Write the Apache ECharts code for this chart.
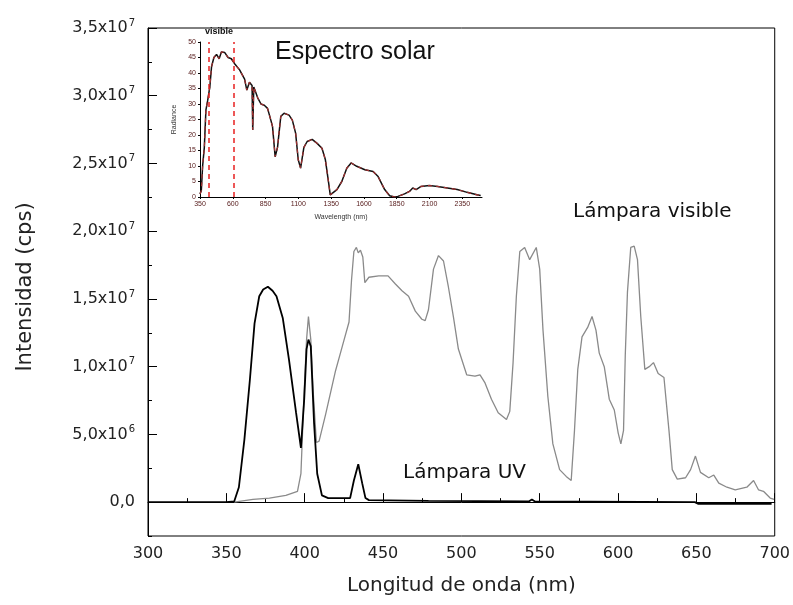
<!DOCTYPE html>
<html>
<head>
<meta charset="utf-8">
<script src="https://cdn.jsdelivr.net/npm/echarts@6/dist/echarts.min.js"></script>
<style>
	html, body { margin: 0; padding: 0; background: #fff; }
	#chart { width: 793px; height: 605px; }
</style>
</head>
<body>
<div id="chart"></div>
<script>
// Lámpara UV: [longitud de onda (nm), intensidad (cps)]
var uvLamp = [
	[300, 0], [350, 0], [355, 0.05e6], [358, 1.1e6], [361.5, 4.6e6], [365, 9.0e6],
	[368, 13.2e6], [371, 15.2e6], [373.5, 15.7e6], [376.5, 15.9e6], [379.5, 15.6e6],
	[382, 15.2e6], [386, 13.6e6], [390, 10.5e6], [394.5, 6.6e6], [397.6, 4.0e6],
	[399.7, 7.6e6], [401.2, 11.3e6], [402.4, 12.0e6], [403.9, 11.5e6], [406, 5.8e6],
	[408, 2.1e6], [411, 0.5e6], [415, 0.3e6], [429, 0.3e6], [431.4, 1.6e6],
	[434.2, 2.8e6], [436.7, 1.4e6], [438.8, 0.3e6], [441, 0.15e6], [479, 0.1e6],
	[543, 0.05e6], [545, 0.2e6], [547, 0.05e6], [649, 0], [651, -0.12e6], [698, -0.12e6]
];

// Lámpara visible
var visLamp = [
	[355, 0], [367, 0.2e6], [377.5, 0.3e6], [388, 0.5e6], [395.4, 0.8e6], [397.6, 2.1e6],
	[399.7, 8.2e6], [401.2, 12.0e6], [402.4, 13.7e6], [403.9, 12.0e6], [405.4, 8.2e6],
	[407.5, 4.4e6], [409.2, 4.5e6], [413.4, 6.5e6], [419.7, 9.7e6], [424, 11.5e6],
	[428.3, 13.3e6], [429.9, 16.4e6], [431.4, 18.5e6], [433, 18.8e6], [434.2, 18.4e6],
	[435.6, 18.6e6], [437.1, 18.1e6], [438.4, 16.2e6], [441, 16.6e6], [447.3, 16.7e6],
	[453.2, 16.7e6], [457.9, 16.1e6], [462.1, 15.6e6], [466.3, 15.2e6], [470.6, 14.1e6],
	[474.8, 13.5e6], [476.9, 13.4e6], [479, 14.2e6], [482.2, 17.2e6], [485.4, 18.2e6],
	[488.6, 17.8e6], [491.7, 15.9e6], [494.9, 13.7e6], [498.1, 11.3e6], [503.4, 9.4e6],
	[508.7, 9.3e6], [511.9, 9.4e6], [515.1, 8.8e6], [519.2, 7.6e6], [523.5, 6.6e6],
	[528.8, 6.1e6], [530.9, 6.7e6], [533, 10.3e6], [535.1, 15.2e6], [537.3, 18.5e6],
	[540.4, 18.8e6], [543.6, 17.9e6], [547.8, 18.8e6], [550, 17.2e6], [552.1, 12.7e6],
	[555.2, 7.8e6], [558.4, 4.3e6], [562.7, 2.4e6], [566.9, 1.9e6], [570.1, 1.6e6],
	[572.2, 5.3e6], [574.3, 9.8e6], [577, 12.2e6], [580.6, 12.9e6], [583.4, 13.7e6],
	[585.9, 12.7e6], [588, 11.0e6], [591.2, 10.0e6], [594.4, 7.6e6], [597.6, 6.8e6],
	[600.1, 5.1e6], [601.8, 4.3e6], [603.5, 5.3e6], [604.6, 10.8e6], [606, 15.5e6],
	[608.1, 18.8e6], [610.3, 18.9e6], [612.4, 17.9e6], [614.5, 13.7e6], [617.1, 9.8e6],
	[619.9, 10.0e6], [622.6, 10.3e6], [625.6, 9.5e6], [629.3, 9.2e6], [632.5, 5.3e6],
	[634.6, 2.4e6], [637.8, 1.7e6], [643.1, 1.8e6], [646.3, 2.4e6], [649.4, 3.4e6],
	[652.6, 2.2e6], [657.9, 1.8e6], [661.1, 2.0e6], [664.3, 1.4e6], [669.5, 1.1e6],
	[674.8, 0.9e6], [682.2, 1.1e6], [686.5, 1.6e6], [689.7, 0.9e6], [692.8, 0.8e6],
	[697.1, 0.3e6], [699.6, 0.2e6]
];

// Espectro solar (recuadro): [wavelength (nm), radiance]
var solarSpectrum = [
	[350, 1], [360, 2], [370, 10], [383, 16], [395, 28], [408, 31], [425, 35.5], [438, 42],
	[456, 45], [476, 46], [496, 44.6], [513, 46.8], [539, 46.6], [564, 45], [589, 44.6],
	[614, 43], [652, 41], [690, 38], [707, 34.5], [727, 37], [747, 36], [752, 21.6],
	[760, 35.5], [790, 32], [815, 30], [840, 29.6], [865, 28.6], [890, 24.8], [903, 22.7],
	[923, 13], [941, 16], [966, 26], [991, 27], [1029, 26.4], [1054, 24.8], [1079, 20.6],
	[1099, 12], [1117, 9.3], [1142, 16], [1167, 17.9], [1205, 18.6], [1243, 17.3],
	[1280, 15.7], [1306, 12], [1331, 4.5], [1343, 0.7], [1356, 0.2], [1394, 2.4],
	[1431, 5], [1469, 9.3], [1502, 11], [1545, 9.9], [1607, 8.8], [1670, 8.2],
	[1708, 6.6], [1758, 2.4], [1796, 0.4], [1834, 0], [1859, 0.2], [1909, 1], [1947, 1.8],
	[1972, 2.9], [1998, 2.4], [2035, 3.4], [2098, 3.7], [2161, 3.4], [2236, 2.9],
	[2311, 2.4], [2387, 1.5], [2462, 0.7], [2490, 0.5]
];
var visibleBand = [415, 605];

var FONT = "'DejaVu Sans', Verdana, sans-serif";
var FONT2 = "'Liberation Sans', Arial, sans-serif";

function sciLabel(v) {
	if (v === 0) return '{b|0,0}';
	var e = Math.floor(Math.log10(v) + 1e-9);
	var m = v / Math.pow(10, e);
	return '{b|' + m.toFixed(1).replace('.', ',') + 'x10}{e|' + e + '}';
}

var chart = echarts.init(document.getElementById('chart'), null, { renderer: 'canvas' });
var option = {
	animation: false,
	backgroundColor: '#fff',
	grid: [
		{ left: 148, right: 15, top: 28, height: 508, show: true, borderColor: '#000', borderWidth: 1, backgroundColor: 'transparent' },
		{ left: 148, right: 15, top: 28, height: 474.13 },
		{ left: 200, top: 42, width: 282, height: 155 }
	],
	xAxis: [ {
		gridIndex: 0, type: 'value', min: 300, max: 700, interval: 50,
		name: 'Longitud de onda (nm)', nameLocation: 'middle', nameGap: 40,
		nameTextStyle: { fontFamily: FONT, fontSize: 20, color: '#222' },
		axisLine: { lineStyle: { color: '#000', width: 1 } },
		axisTick: { inside: true, length: 9, lineStyle: { color: '#000' } },
		minorTick: { show: true, splitNumber: 2, length: 4, lineStyle: { color: '#000' } },
		axisLabel: { fontFamily: FONT, fontSize: 16, color: '#222', margin: 10 },
		splitLine: { show: false }
	}, {
		gridIndex: 1, type: 'value', min: 300, max: 700, show: false
	}, {
		gridIndex: 2, type: 'value', min: 350, max: 2500, interval: 250,
		name: 'Wavelength (nm)', nameLocation: 'middle', nameGap: 17,
		nameTextStyle: { fontFamily: FONT2, fontSize: 7, color: '#333' },
		axisLine: { lineStyle: { color: '#000', width: 1 } },
		axisTick: { length: 2, lineStyle: { color: '#000' } },
		axisLabel: {
			fontFamily: FONT2, fontSize: 7, color: '#5a2020', margin: 4, showMaxLabel: false,
			formatter: function (v) { return String(v); }
		},
		splitLine: { show: false }
	} ],
	yAxis: [ {
		gridIndex: 0, type: 'value', min: -2.5e6, max: 3.5e7, interval: 2.5e6,
		name: 'Intensidad (cps)', nameLocation: 'middle', nameGap: 112,
		nameTextStyle: { fontFamily: FONT, fontSize: 21, color: '#222', padding: [0, 10, 0, 0] },
		axisLine: { lineStyle: { color: '#000', width: 1 } },
		axisTick: { inside: true, length: 4, lineStyle: { color: '#000' } },
		axisLabel: { show: false },
		splitLine: { show: false }
	}, {
		gridIndex: 1, type: 'value', min: 0, max: 3.5e7, interval: 5e6,
		axisLine: { show: false },
		axisTick: { inside: true, length: 9, lineStyle: { color: '#000' } },
		axisLabel: {
			margin: 13,
			formatter: sciLabel,
			rich: {
				b: { fontFamily: FONT, fontSize: 16, color: '#222', lineHeight: 20 },
				e: { fontFamily: FONT, fontSize: 10, color: '#222', verticalAlign: 'top', lineHeight: 10, padding: [0, 0, 6, 1] }
			}
		},
		splitLine: { show: false }
	}, {
		gridIndex: 2, type: 'value', min: 0, max: 50, interval: 5,
		name: 'Radiance', nameLocation: 'middle', nameGap: 22,
		nameTextStyle: { fontFamily: FONT2, fontSize: 7, color: '#333' },
		axisLine: { lineStyle: { color: '#000', width: 1 } },
		axisTick: { length: 2, lineStyle: { color: '#000' } },
		axisLabel: { fontFamily: FONT2, fontSize: 7, color: '#5a2020', margin: 4 },
		splitLine: { show: false }
	} ],
	series: [ {
		name: 'Lámpara visible', type: 'line', xAxisIndex: 0, yAxisIndex: 0,
		data: visLamp, symbol: 'none', smooth: false,
		lineStyle: { color: '#8a8a8a', width: 1.3 }
	}, {
		name: 'Lámpara UV', type: 'line', xAxisIndex: 0, yAxisIndex: 0,
		data: uvLamp, symbol: 'none', smooth: false,
		lineStyle: { color: '#000', width: 1.8 }
	}, {
		name: 'Espectro solar', type: 'line', xAxisIndex: 2, yAxisIndex: 2,
		data: solarSpectrum, symbol: 'none',
		lineStyle: { color: '#111', width: 1.5 }
	}, {
		name: 'Espectro solar (ref)', type: 'line', xAxisIndex: 2, yAxisIndex: 2,
		data: solarSpectrum, symbol: 'none',
		lineStyle: { color: '#a03030', width: 1.2, type: [4, 4] },
		markLine: {
			silent: true, symbol: ['none', 'none'],
			label: { show: false },
			lineStyle: { color: '#e82020', width: 1.5, type: [5, 4] },
			data: [ { xAxis: visibleBand[0] }, { xAxis: visibleBand[1] } ]
		}
	} ],
	graphic: [
		{ type: 'text', left: 205, top: 27, style: { text: 'visible', font: "bold 9px " + FONT2, fill: '#111' } },
		{ type: 'text', left: 275, top: 40, style: { text: 'Espectro solar', font: "25px " + FONT2, fill: '#111' } },
		{ type: 'text', left: 573, top: 202, style: { text: 'Lámpara visible', font: "20px " + FONT, fill: '#111' } },
		{ type: 'text', left: 403, top: 463, style: { text: 'Lámpara UV', font: "20px " + FONT, fill: '#111' } }
	]
};
chart.setOption(option);
window.addEventListener('resize', chart.resize);
</script>
</body>
</html>
